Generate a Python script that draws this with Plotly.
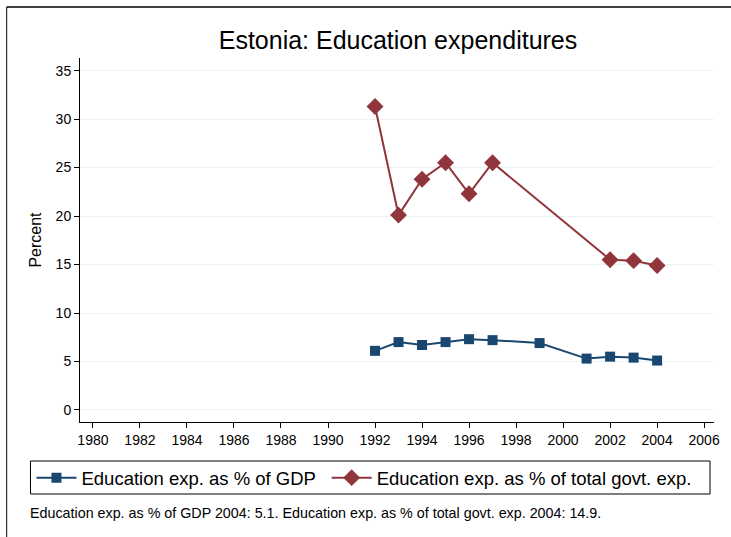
import plotly.graph_objects as go

years_gdp = [1992, 1993, 1994, 1995, 1996, 1997, 1999, 2001, 2002, 2003, 2004]
edu_gdp = [6.1, 7.0, 6.7, 7.0, 7.3, 7.2, 6.9, 5.3, 5.5, 5.4, 5.1]
years_govt = [1992, 1993, 1994, 1995, 1996, 1997, 2002, 2003, 2004]
edu_govt = [31.3, 20.1, 23.8, 25.5, 22.3, 25.5, 15.5, 15.4, 14.9]
x_ticks = list(range(1980, 2007, 2))
y_ticks = [0, 5, 10, 15, 20, 25, 30, 35]

BLUE = "#1a476f"
RED = "#90353b"
FONT = "Liberation Sans, Arial, sans-serif"

fig = go.Figure()
fig.add_trace(go.Scatter(x=years_gdp, y=edu_gdp, mode="lines+markers",
                         name="Education exp. as % of GDP", legend="legend",
                         line=dict(color=BLUE, width=2),
                         marker=dict(symbol="square", size=10, color=BLUE)))
fig.add_trace(go.Scatter(x=years_govt, y=edu_govt, mode="lines+markers",
                         name="Education exp. as % of total govt. exp.", legend="legend2",
                         line=dict(color=RED, width=2),
                         marker=dict(symbol="diamond", size=13, color=RED)))

leg_common = dict(orientation="h", yanchor="top", y=-0.102, xanchor="left",
                  font=dict(size=18.5), bgcolor="rgba(0,0,0,0)", borderwidth=0,
                  itemwidth=40)

fig.update_layout(
    width=731, height=537,
    margin=dict(l=80, r=11, t=58, b=115),
    paper_bgcolor="white", plot_bgcolor="white",
    font=dict(family=FONT, color="black"),
    title=dict(text="Estonia: Education expenditures", x=398/731, xanchor="center",
               y=1 - 40/537, yanchor="middle", font=dict(size=25, color="black")),
    showlegend=True,
    legend=dict(x=(31-80)/640, **leg_common),
    legend2=dict(x=(329-80)/640, **leg_common),
    xaxis=dict(range=[1979.45, 2006.42], tickvals=x_ticks, ticks="outside", ticklen=5,
               tickcolor="black", showline=True, linecolor="black", linewidth=1,
               showgrid=False, zeroline=False, tickfont=dict(size=14)),
    yaxis=dict(range=[-1.24, 36.3], tickvals=y_ticks, ticks="outside", ticklen=5,
               tickcolor="black", showline=True, linecolor="black", linewidth=1,
               showgrid=True, gridcolor="#eaf2f3", gridwidth=1, zeroline=False,
               tickfont=dict(size=14),
               title=dict(text="Percent", font=dict(size=16), standoff=10)),
    shapes=[
        dict(type="rect", xref="paper", yref="paper",
             x0=(30-80)/640, x1=(716-80)/640, y0=(422-494)/364, y1=(422-461)/364,
             line=dict(color="black", width=1)),
        dict(type="line", xref="paper", yref="paper",
             x0=(6-80)/640, x1=1.1, y0=(422-7)/364, y1=(422-7)/364,
             line=dict(color="black", width=1.5)),
        dict(type="line", xref="paper", yref="paper",
             x0=(6-80)/640, x1=(6-80)/640, y0=(422-7)/364, y1=-0.4,
             line=dict(color="black", width=1)),
    ],
    annotations=[
        dict(text="Education exp. as % of GDP 2004: 5.1. Education exp. as % of total govt. exp. 2004: 14.9.",
             xref="paper", yref="paper", x=(28-80)/640, y=(422-513)/364,
             xanchor="left", yanchor="middle", showarrow=False, font=dict(size=14.3))
    ],
)

fig.write_html("out.html", config={"displayModeBar": False},
               post_script="document.body.style.margin='0';document.body.style.overflow='hidden';")
